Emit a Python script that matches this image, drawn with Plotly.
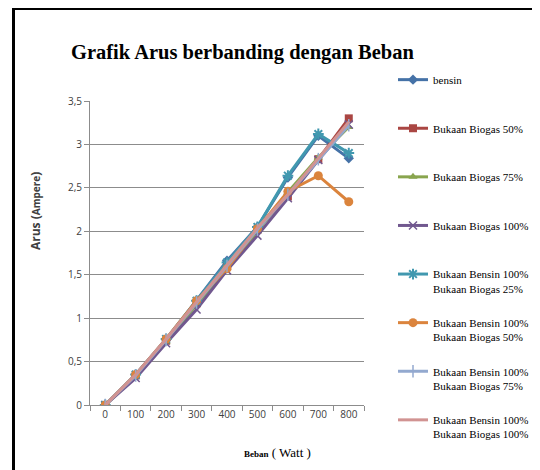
import plotly.graph_objects as go

categories = ["0", "100", "200", "300", "400", "500", "600", "700", "800"]

series_names = [
    "bensin",
    "Bukaan Biogas 50%",
    "Bukaan Biogas 75%",
    "Bukaan Biogas 100%",
    "Bukaan Bensin 100%<br>Bukaan Biogas 25%",
    "Bukaan Bensin 100%<br>Bukaan Biogas 50%",
    "Bukaan Bensin 100%<br>Bukaan Biogas 75%",
    "Bukaan Bensin 100%<br>Bukaan Biogas 100%",
]

bensin = [0, 0.35, 0.75, 1.20, 1.66, 2.05, 2.62, 3.10, 2.84]
biogas50 = [0, 0.34, 0.74, 1.17, 1.60, 2.02, 2.40, 2.83, 3.30]
biogas75 = [0, 0.33, 0.73, 1.15, 1.58, 2.00, 2.45, 2.85, 3.20]
biogas100 = [0, 0.31, 0.71, 1.10, 1.55, 1.95, 2.38, 2.82, 3.23]
bensin100_biogas25 = [0, 0.35, 0.76, 1.20, 1.64, 2.05, 2.64, 3.12, 2.90]
bensin100_biogas50 = [0, 0.35, 0.76, 1.20, 1.57, 2.03, 2.46, 2.64, 2.34]
bensin100_biogas75 = [0, 0.34, 0.75, 1.18, 1.60, 2.02, 2.42, 2.83, 3.22]
bensin100_biogas100 = [0, 0.35, 0.76, 1.19, 1.61, 2.04, 2.42, 2.84, 3.26]

y_tickvals = [0, 0.5, 1, 1.5, 2, 2.5, 3, 3.5]
y_ticktext = ["0", "0,5", "1", "1,5", "2", "2,5", "3", "3,5"]

all_series = [bensin, biogas50, biogas75, biogas100,
              bensin100_biogas25, bensin100_biogas50, bensin100_biogas75, bensin100_biogas100]

colors = ["#4572A7", "#AA4643", "#89A54E", "#71588F",
          "#4198AF", "#DB843D", "#93A9CF", "#D19392"]
markers = [
    dict(symbol="diamond", size=8),
    dict(symbol="square", size=8),
    dict(symbol="triangle-up", size=8),
    dict(symbol="x-thin-open", size=8, line=dict(width=1.5)),
    dict(symbol="asterisk-open", size=9, line=dict(width=2)),
    dict(symbol="circle", size=9),
    dict(symbol="line-ns-open", size=9, line=dict(width=1.5)),
    dict(symbol="circle", size=1, opacity=0),
]

fig = go.Figure()
for i, (name, vals) in enumerate(zip(series_names, all_series)):
    label = name if "<br>" in name else name + "<br> "
    m = dict(color=colors[i])
    m.update(markers[i])
    if "line" in m:
        m["line"] = dict(color=colors[i], width=m["line"]["width"])
    fig.add_trace(go.Scatter(
        x=categories, y=vals, name=label, mode="lines+markers",
        line=dict(color=colors[i], width=3), marker=m,
        legendgroup="g%d" % i,
    ))

# page body has an 8px margin: screen coords = figure coords + 8
OFF = 8
W, H = 532, 462
scr_l, scr_t = 90, 101
pw, ph = 274, 304
ml, mt = scr_l - OFF, scr_t - OFF


def px(x):
    return (x - OFF - ml) / pw


def py(y):
    return (mt + ph - (y - OFF)) / ph


fig.update_layout(
    width=W, height=H,
    margin=dict(l=ml, r=W - ml - pw, t=mt, b=H - mt - ph, autoexpand=False),
    paper_bgcolor="white", plot_bgcolor="white",
    showlegend=True,
    legend=dict(
        x=px(393), y=py(66), xanchor="left", yanchor="top",
        font=dict(family="Liberation Serif", size=11, color="black"),
        tracegroupgap=17, traceorder="grouped", valign="top",
        bgcolor="rgba(0,0,0,0)", maxheight=440,
    ),
    xaxis=dict(
        type="category", tickson="boundaries", showgrid=False,
        showline=True, linecolor="#8c8c8c", linewidth=1,
        ticks="outside", ticklen=5, tickcolor="#8c8c8c",
        tickfont=dict(family="Open Sans", size=10, color="#404040"),
        range=[-0.5, 8.5], zeroline=False,
    ),
    yaxis=dict(
        range=[0, 3.5], tickvals=y_tickvals, ticktext=y_ticktext,
        showgrid=True, gridcolor="#8c8c8c", gridwidth=1,
        showline=True, linecolor="#8c8c8c", linewidth=1,
        ticks="outside", ticklen=5, tickcolor="#8c8c8c",
        tickfont=dict(family="Open Sans", size=10, color="#404040"),
        zeroline=False,
    ),
    annotations=[
        dict(text="<b>Grafik Arus berbanding dengan Beban</b>",
             xref="paper", yref="paper", x=px(242), y=py(52),
             xanchor="center", yanchor="middle", showarrow=False,
             font=dict(family="Liberation Serif", size=20.5, color="black")),
        dict(text="<b>Arus</b> <b>(<span style='font-size:10px'>Ampere</span>)</b>",
             xref="paper", yref="paper", x=px(35), y=py(211),
             xanchor="center", yanchor="middle", showarrow=False, textangle=-90,
             font=dict(family="Open Sans", size=12, color="#404040")),
        dict(text="<b><span style='font-size:9px'>Beban</span></b> ( Watt )",
             xref="paper", yref="paper", x=px(277), y=py(452),
             xanchor="center", yanchor="middle", showarrow=False,
             font=dict(family="Liberation Serif", size=13, color="black")),
    ],
    shapes=[
        dict(type="line", xref="paper", yref="paper",
             x0=px(13.5), x1=px(13.5), y0=py(7), y1=py(480),
             line=dict(color="black", width=3)),
        dict(type="line", xref="paper", yref="paper",
             x0=px(12), x1=px(560), y0=py(8.5), y1=py(8.5),
             line=dict(color="black", width=3)),
    ],
)

fig.write_html("out.html")
